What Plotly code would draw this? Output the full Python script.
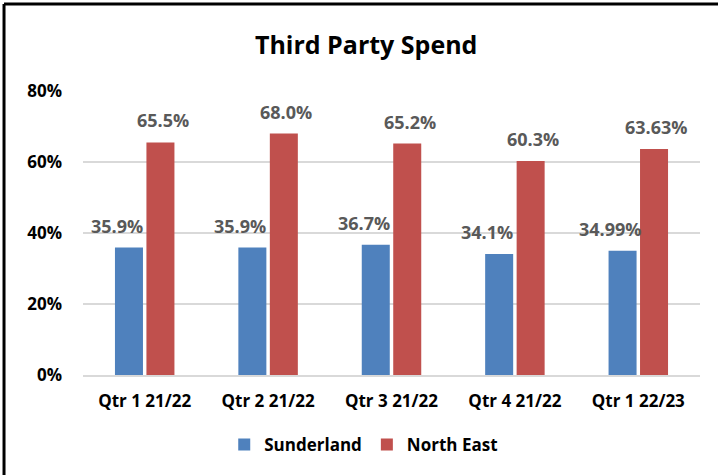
import plotly.graph_objects as go

quarters = ["Qtr 1 21/22", "Qtr 2 21/22", "Qtr 3 21/22", "Qtr 4 21/22", "Qtr 1 22/23"]
sunderland = [35.9, 35.9, 36.7, 34.1, 34.99]
north_east = [65.5, 68.0, 65.2, 60.3, 63.63]
sunderland_labels = ["35.9%", "35.9%", "36.7%", "34.1%", "34.99%"]
north_east_labels = ["65.5%", "68.0%", "65.2%", "60.3%", "63.63%"]
y_ticks = [0, 20, 40, 60, 80]

FONT = "'Open Sans', sans-serif"

fig = go.Figure()
fig.add_trace(go.Bar(x=quarters, y=sunderland, name="Sunderland",
                     marker=dict(color="#4F81BD", line=dict(width=0))))
fig.add_trace(go.Bar(x=quarters, y=north_east, name="North East",
                     marker=dict(color="#C0504D", line=dict(width=0))))

# data labels, placed like the Excel original
annotations = []
for q, v, t in zip(quarters, sunderland, sunderland_labels):
    annotations.append(dict(x=q, y=v, text=t, xref="x", yref="y", showarrow=False,
                            xshift=-28, yshift=8, yanchor="bottom",
                            font=dict(family=FONT, size=18, color="#595959", weight="bold")))
for q, v, t in zip(quarters, north_east, north_east_labels):
    annotations.append(dict(x=q, y=v, text=t, xref="x", yref="y", showarrow=False,
                            xshift=18, yshift=8, yanchor="bottom",
                            font=dict(family=FONT, size=18, color="#595959", weight="bold")))

fig.update_layout(
    width=718, height=475,
    margin=dict(l=83, r=18, t=91, b=100),
    paper_bgcolor="white", plot_bgcolor="white",
    barmode="group", bargap=0.49, bargroupgap=0.11,
    title=dict(text="Third Party Spend", x=0.51, xanchor="center",
               y=0.905, yanchor="middle", yref="container",
               font=dict(family=FONT, size=25, color="black", weight="bold")),
    legend=dict(orientation="h", x=0.455, xanchor="center", y=-0.246, yanchor="middle",
                font=dict(family=FONT, size=17, color="black", weight="bold"),
                itemwidth=30, traceorder="normal"),
    annotations=annotations,
    shapes=[
        dict(type="line", xref="paper", yref="paper", x0=-0.128, x1=1.05, y0=1.306, y1=1.306,
             line=dict(color="black", width=3)),
        dict(type="line", xref="paper", yref="paper", x0=-0.128, x1=-0.128, y0=1.306, y1=-0.36,
             line=dict(color="black", width=3)),
    ],
)
fig.update_yaxes(range=[0, 80], tickvals=y_ticks, ticktext=[f"{v}%" for v in y_ticks],
                 showgrid=True, gridcolor="#D9D9D9", gridwidth=1.5, zeroline=False,
                 showline=False, ticks="", ticklen=0, ticklabelstandoff=20,
                 tickfont=dict(family=FONT, size=17, color="black", weight="bold"))
fig.update_xaxes(showgrid=False, showline=True, linecolor="#D9D9D9", linewidth=1.5,
                 ticks="", ticklabelstandoff=10,
                 tickfont=dict(family=FONT, size=17, color="black", weight="bold"))

# drop the default page margin so the chart sits at the window corner
fig.write_html("out.html", config={"displayModeBar": False},
               post_script="document.body.style.margin='0';")
